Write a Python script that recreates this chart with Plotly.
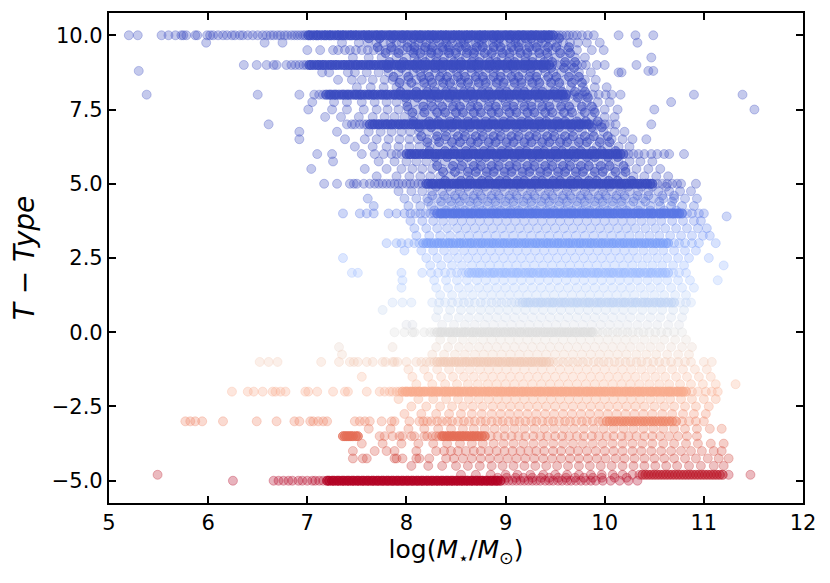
import plotly.graph_objects as go

# =============== data: log(M*/Msun) of galaxies at each T-Type value ===============
# sparse galaxies (one galaxy per listed mass)
t10 = [5.20, 5.29, 5.53, 5.60, 5.67, 5.73, 5.75, 5.78, 5.87, 5.89, 5.99, 6.02, 6.05, 6.10, 6.15, 6.19, 6.24, 6.27,
       6.32, 6.35, 6.40, 6.45, 6.50, 6.55, 6.59, 6.63, 6.66, 6.70, 6.73, 6.77, 6.80, 6.84, 6.87, 6.90, 6.93, 6.96,
       6.98, 9.51, 9.54, 9.57, 9.61, 9.64, 9.68, 9.72, 9.77, 9.83, 9.89, 10.14, 10.31, 10.49]
t9_75 = [5.98, 6.57, 6.75, 7.35, 7.52, 7.61, 7.70, 7.77, 7.84, 7.90, 7.95, 8.01, 8.05, 8.12, 8.16, 8.20, 8.27, 8.33,
         8.37, 8.40, 8.46, 8.52, 8.55, 8.58, 8.63, 8.70, 8.73, 8.76, 8.81, 8.87, 8.91, 8.93, 8.98, 9.05, 9.10, 9.13,
         9.16, 9.22, 9.28, 9.33, 9.37, 9.40, 9.46, 9.52, 9.58, 9.65, 9.73, 9.82, 9.95, 10.33]
t9_5 = [7.00, 7.13, 7.26, 7.31, 7.38, 7.43, 7.49, 7.55, 7.61, 7.67, 7.73, 7.79, 7.84, 7.88, 7.93, 7.97, 8.04, 8.08,
        8.11, 8.18, 8.22, 8.25, 8.31, 8.37, 8.41, 8.44, 8.50, 8.56, 8.62, 8.66, 8.69, 8.75, 8.82, 8.88, 8.95, 9.01,
        9.08, 9.14, 9.21, 9.27, 9.34, 9.40, 9.47, 9.55, 9.63, 9.72, 9.87, 9.99]
t9_25 = [7.46, 7.62, 7.75, 7.90, 8.00, 8.08, 8.16, 8.24, 8.30, 8.38, 8.45, 8.53, 8.60, 8.68, 8.74, 8.82, 8.90, 8.96,
         9.04, 9.12, 9.20, 9.27, 9.35, 9.43, 9.50, 9.60, 9.70, 9.80, 10.47]
t9 = [6.36, 6.49, 6.59, 6.66, 6.69, 6.79, 6.84, 6.88, 6.92, 6.96, 6.99, 9.47, 9.52, 9.56, 9.61, 9.66, 9.72, 9.77,
      9.81, 9.92, 10.00, 10.32]
t8_8 = [5.30, 10.44, 10.49]
t8_75 = [7.15, 7.22, 7.41, 7.48, 7.60, 7.72, 7.82, 7.92, 8.00, 8.07, 8.14, 8.22, 8.29, 8.36, 8.44, 8.51, 8.58, 8.66,
         8.73, 8.80, 8.88, 8.95, 9.02, 9.10, 9.17, 9.25, 9.32, 9.40, 9.48, 9.56, 9.65, 9.74, 9.86, 10.14, 10.17]
t8_5 = [7.31, 7.45, 7.55, 7.66, 7.78, 7.86, 7.94, 8.02, 8.10, 8.17, 8.25, 8.33, 8.40, 8.48, 8.55, 8.63, 8.70, 8.78,
        8.85, 8.93, 9.00, 9.08, 9.16, 9.24, 9.32, 9.41, 9.50, 9.60, 9.70, 9.80, 9.91]
t8_25 = [7.50, 7.64, 7.77, 7.90, 8.00, 8.10, 8.20, 8.28, 8.37, 8.46, 8.55, 8.64, 8.72, 8.81, 8.90, 8.99, 9.08, 9.17,
         9.26, 9.35, 9.45, 9.55, 9.66, 9.78, 9.90, 10.02]
t8 = [5.38, 6.50, 6.92, 7.07, 7.12, 7.16, 9.64, 9.69, 9.74, 9.78, 9.82, 9.88, 9.94, 10.01, 10.07, 10.16, 10.90,
      11.39]
t7_75 = [7.05, 7.27, 7.40, 7.55, 7.68, 7.80, 7.90, 8.00, 8.08, 8.17, 8.25, 8.33, 8.42, 8.50, 8.58, 8.67, 8.75, 8.84,
         8.92, 9.00, 9.09, 9.17, 9.26, 9.34, 9.43, 9.52, 9.61, 9.71, 9.82, 9.93, 10.05, 10.67]
t7_5 = [7.01, 7.25, 7.40, 7.57, 7.70, 7.81, 7.92, 8.02, 8.11, 8.20, 8.29, 8.38, 8.47, 8.56, 8.65, 8.74, 8.83, 8.92,
        9.01, 9.10, 9.19, 9.28, 9.37, 9.46, 9.56, 9.66, 9.77, 9.89, 10.00, 10.13, 10.50, 11.51]
t7_25 = [7.18, 7.34, 7.52, 7.66, 7.78, 7.88, 7.98, 8.07, 8.16, 8.26, 8.35, 8.44, 8.53, 8.62, 8.71, 8.80, 8.89, 8.98,
         9.07, 9.16, 9.25, 9.34, 9.44, 9.54, 9.64, 9.75, 9.87, 10.00, 10.10]
t7 = [6.61, 7.40, 7.45, 7.48, 7.53, 7.57, 7.60, 9.88, 9.92, 9.96, 10.00, 10.05, 10.11, 10.47]
t6_75 = [6.92, 7.30, 7.62, 7.74, 7.85, 7.95, 8.04, 8.13, 8.22, 8.31, 8.40, 8.49, 8.58, 8.67, 8.76, 8.85, 8.94, 9.03,
         9.12, 9.21, 9.30, 9.39, 9.48, 9.57, 9.67, 9.77, 9.88, 9.99, 10.10, 10.20]
t6_5 = [6.92, 7.38, 7.58, 7.70, 7.82, 7.93, 8.03, 8.12, 8.21, 8.30, 8.39, 8.48, 8.57, 8.66, 8.75, 8.84, 8.93, 9.02,
        9.11, 9.20, 9.29, 9.38, 9.47, 9.56, 9.65, 9.75, 9.85, 9.96, 10.07, 10.18, 10.28, 10.42]
t6_25 = [7.48, 7.66, 7.80, 7.92, 8.03, 8.13, 8.23, 8.32, 8.42, 8.51, 8.60, 8.69, 8.78, 8.87, 8.96, 9.05, 9.14, 9.23,
         9.33, 9.42, 9.51, 9.61, 9.71, 9.81, 9.92, 10.03, 10.14, 10.25]
t6 = [7.10, 7.25, 7.55, 7.68, 7.77, 7.85, 7.90, 7.95, 10.24, 10.29, 10.34, 10.40, 10.47, 10.53, 10.60, 10.65, 10.80]
t5_75 = [7.26, 7.72, 7.88, 8.00, 8.10, 8.20, 8.30, 8.39, 8.48, 8.57, 8.66, 8.75, 8.84, 8.93, 9.02, 9.11, 9.20, 9.29,
         9.38, 9.47, 9.56, 9.65, 9.74, 9.84, 9.94, 10.04, 10.14, 10.25, 10.36, 10.48]
t5_5 = [7.04, 7.58, 7.80, 7.95, 8.06, 8.16, 8.26, 8.36, 8.45, 8.54, 8.63, 8.72, 8.81, 8.90, 8.99, 9.08, 9.17, 9.26,
        9.35, 9.44, 9.53, 9.62, 9.71, 9.80, 9.90, 10.00, 10.10, 10.21, 10.32, 10.44, 10.56]
t5_25 = [7.70, 7.90, 8.03, 8.14, 8.24, 8.34, 8.44, 8.53, 8.62, 8.71, 8.80, 8.89, 8.98, 9.07, 9.16, 9.25, 9.34, 9.43,
         9.52, 9.61, 9.70, 9.79, 9.88, 9.98, 10.08, 10.18, 10.29, 10.40, 10.52, 10.64]
t5 = [7.17, 7.30, 7.43, 7.47, 7.50, 7.57, 7.63, 7.68, 7.72, 7.76, 7.80, 7.84, 7.88, 7.92, 7.96, 8.00, 8.04, 8.08,
      8.12, 8.16, 10.53, 10.58, 10.63, 10.68, 10.73, 10.77, 10.92]
t4_9 = [8.30, 8.42, 8.53, 8.61, 8.72, 8.79, 8.90, 8.97, 9.08, 9.15, 9.26, 9.33, 9.44, 9.51, 9.62, 9.69, 9.80, 9.87,
        9.98, 10.05, 10.16, 10.24, 10.37, 10.48, 10.62]
t4_75 = [7.92, 8.05, 8.16, 8.26, 8.36, 8.45, 8.54, 8.63, 8.72, 8.81, 8.90, 8.99, 9.08, 9.17, 9.26, 9.35, 9.44, 9.53,
         9.62, 9.71, 9.80, 9.89, 9.98, 10.07, 10.16, 10.25, 10.34, 10.44, 10.54, 10.65, 10.76, 10.87]
t4_6 = [8.26, 8.38, 8.49, 8.57, 8.68, 8.75, 8.86, 8.93, 9.04, 9.11, 9.22, 9.29, 9.40, 9.47, 9.58, 9.65, 9.76, 9.83,
        9.94, 10.01, 10.12, 10.20, 10.33, 10.44, 10.58, 10.70]
t4_5 = [7.61, 7.98, 8.10, 8.21, 8.31, 8.41, 8.50, 8.59, 8.68, 8.77, 8.86, 8.95, 9.04, 9.13, 9.22, 9.31, 9.40, 9.49,
        9.58, 9.67, 9.76, 9.85, 9.94, 10.03, 10.12, 10.21, 10.30, 10.39, 10.49, 10.59, 10.70, 10.81, 10.93]
t4_4 = [8.22, 8.35, 8.45, 8.54, 8.64, 8.72, 8.82, 8.90, 9.00, 9.08, 9.18, 9.26, 9.36, 9.44, 9.54, 9.62, 9.72, 9.80,
        9.90, 9.98, 10.08, 10.17, 10.29, 10.41, 10.55, 10.68]
t4_25 = [7.67, 8.02, 8.14, 8.25, 8.35, 8.45, 8.54, 8.64, 8.73, 8.82, 8.91, 9.00, 9.09, 9.18, 9.27, 9.36, 9.45, 9.54,
         9.63, 9.72, 9.81, 9.90, 9.99, 10.08, 10.17, 10.26, 10.36, 10.46, 10.56, 10.67, 10.78, 10.90]
t4_1 = [8.28, 8.40, 8.50, 8.59, 8.69, 8.77, 8.87, 8.95, 9.05, 9.13, 9.23, 9.31, 9.41, 9.49, 9.59, 9.67, 9.77, 9.85,
        9.95, 10.03, 10.13, 10.22, 10.34, 10.46, 10.60, 10.72]
t4 = [7.36, 7.53, 7.60, 7.67, 7.82, 7.90, 7.98, 8.04, 8.09, 8.14, 8.19, 8.24, 8.28, 10.83, 10.88, 10.95, 11.00]
t3_9 = [11.23]
t3_75 = [8.04, 8.16, 8.27, 8.37, 8.47, 8.56, 8.65, 8.74, 8.83, 8.92, 9.01, 9.10, 9.19, 9.28, 9.37, 9.46, 9.55, 9.64,
         9.73, 9.82, 9.91, 10.00, 10.09, 10.18, 10.27, 10.37, 10.47, 10.57, 10.68, 10.79, 10.90, 10.97]
t3_5 = [8.08, 8.20, 8.31, 8.41, 8.51, 8.60, 8.69, 8.78, 8.87, 8.96, 9.05, 9.14, 9.23, 9.32, 9.41, 9.50, 9.59, 9.68,
        9.77, 9.86, 9.95, 10.04, 10.13, 10.22, 10.31, 10.41, 10.51, 10.61, 10.72, 10.83, 10.94, 11.03]
t3_25 = [8.10, 8.23, 8.34, 8.44, 8.54, 8.63, 8.72, 8.81, 8.90, 8.99, 9.08, 9.17, 9.26, 9.35, 9.44, 9.53, 9.62, 9.71,
         9.80, 9.89, 9.98, 10.07, 10.16, 10.25, 10.35, 10.45, 10.55, 10.66, 10.77, 10.88, 10.99, 11.06]
t3 = [7.80, 7.90, 7.95, 8.02, 8.08, 8.13, 10.70, 10.75, 10.81, 10.88, 10.95, 11.12]
t2_75 = [7.98, 8.15, 8.27, 8.38, 8.48, 8.58, 8.67, 8.76, 8.85, 8.94, 9.03, 9.12, 9.21, 9.30, 9.39, 9.48, 9.57, 9.66,
         9.75, 9.84, 9.93, 10.02, 10.11, 10.20, 10.29, 10.39, 10.49, 10.59, 10.70, 10.81, 10.92]
t2_5 = [7.36, 8.20, 8.31, 8.42, 8.52, 8.62, 8.71, 8.80, 8.89, 8.98, 9.07, 9.16, 9.25, 9.34, 9.43, 9.52, 9.61, 9.70,
        9.79, 9.88, 9.97, 10.06, 10.15, 10.24, 10.33, 10.43, 10.53, 10.63, 10.74, 10.85, 11.05]
t2_25 = [8.24, 8.35, 8.46, 8.56, 8.66, 8.75, 8.84, 8.93, 9.02, 9.11, 9.20, 9.29, 9.38, 9.47, 9.56, 9.65, 9.74, 9.83,
         9.92, 10.01, 10.10, 10.19, 10.28, 10.38, 10.48, 10.58, 10.69, 10.80, 11.20]
t2 = [7.45, 7.51, 7.95, 8.16, 8.25, 8.32, 8.39, 8.45, 8.51, 8.56, 8.60, 10.69, 10.75, 10.82]
t1_75 = [7.96, 8.28, 8.40, 8.51, 8.61, 8.71, 8.80, 8.89, 8.98, 9.07, 9.16, 9.25, 9.34, 9.43, 9.52, 9.61, 9.70, 9.79,
         9.88, 9.97, 10.06, 10.15, 10.24, 10.33, 10.43, 10.53, 10.63, 10.74, 10.86, 11.14]
t1_5 = [7.95, 8.30, 8.42, 8.53, 8.63, 8.73, 8.82, 8.91, 9.00, 9.09, 9.18, 9.27, 9.36, 9.45, 9.54, 9.63, 9.72, 9.81,
        9.90, 9.99, 10.08, 10.17, 10.26, 10.36, 10.46, 10.56, 10.67, 10.78, 10.90]
t1_25 = [8.34, 8.46, 8.57, 8.67, 8.77, 8.86, 8.95, 9.04, 9.13, 9.22, 9.31, 9.40, 9.49, 9.58, 9.67, 9.76, 9.85, 9.94,
         10.03, 10.12, 10.21, 10.30, 10.40, 10.50, 10.60, 10.71, 10.82]
t1 = [7.86, 7.96, 8.05, 8.26, 8.33, 8.39, 8.46, 8.52, 8.58, 8.63, 8.69, 8.75, 8.80, 8.86, 8.91, 8.96, 9.01, 9.06,
      9.10, 9.14, 10.76, 10.82, 10.87]
t0_75 = [7.76, 8.32, 8.44, 8.55, 8.65, 8.75, 8.84, 8.93, 9.02, 9.11, 9.20, 9.29, 9.38, 9.47, 9.56, 9.65, 9.74, 9.83,
         9.92, 10.01, 10.10, 10.19, 10.28, 10.38, 10.48, 10.58, 10.69, 10.80]
t0_5 = [8.30, 8.42, 8.53, 8.63, 8.73, 8.82, 8.91, 9.00, 9.09, 9.18, 9.27, 9.36, 9.45, 9.54, 9.63, 9.72, 9.81, 9.90,
        9.99, 10.08, 10.17, 10.26, 10.36, 10.46, 10.56, 10.67, 10.78]
t0_25 = [8.00, 8.06, 8.36, 8.48, 8.59, 8.69, 8.79, 8.88, 8.97, 9.06, 9.15, 9.24, 9.33, 9.42, 9.51, 9.60, 9.69, 9.78,
         9.87, 9.96, 10.05, 10.14, 10.23, 10.33, 10.43, 10.53, 10.64, 10.75]
t0 = [7.88, 7.98, 8.06, 8.08, 8.18, 8.24, 8.28, 9.93, 9.98, 10.03, 10.08, 10.13, 10.18, 10.23, 10.28, 10.34, 10.39,
      10.45, 10.51, 10.57, 10.63, 10.70, 10.78]
tm0_25 = [8.34, 8.46, 8.57, 8.67, 8.77, 8.86, 8.95, 9.04, 9.13, 9.22, 9.31, 9.40, 9.49, 9.58, 9.67, 9.76, 9.85, 9.94,
          10.03, 10.12, 10.21, 10.30, 10.40, 10.50, 10.60, 10.71, 10.82]
tm0_5 = [7.32, 7.86, 8.30, 8.42, 8.53, 8.63, 8.73, 8.82, 8.91, 9.00, 9.09, 9.18, 9.27, 9.36, 9.45, 9.54, 9.63, 9.72,
         9.81, 9.90, 9.99, 10.08, 10.17, 10.26, 10.36, 10.46, 10.56, 10.67, 10.78, 10.88]
tm0_75 = [7.35, 8.26, 8.38, 8.49, 8.59, 8.69, 8.78, 8.87, 8.96, 9.05, 9.14, 9.23, 9.32, 9.41, 9.50, 9.59, 9.68, 9.77,
          9.86, 9.95, 10.04, 10.13, 10.22, 10.32, 10.42, 10.52, 10.63, 10.74, 10.85]
tm1 = [6.52, 6.61, 6.70, 7.14, 7.32, 7.43, 7.47, 7.51, 7.60, 7.66, 7.76, 7.79, 7.86, 7.88, 7.91, 8.00, 8.10, 8.15,
       8.20, 8.24, 8.28, 9.48, 9.53, 9.58, 9.63, 9.68, 9.73, 9.78, 9.83, 9.89, 9.94, 9.99, 10.04, 10.10, 10.15,
       10.21, 10.26, 10.32, 10.37, 10.43, 10.49, 10.55, 10.61, 10.67, 10.74, 10.81, 10.87, 11.00, 11.08]
tm1_25 = [8.02, 8.18, 8.31, 8.43, 8.54, 8.64, 8.74, 8.83, 8.92, 9.01, 9.10, 9.19, 9.28, 9.37, 9.46, 9.55, 9.64, 9.73,
          9.82, 9.91, 10.00, 10.09, 10.18, 10.27, 10.37, 10.47, 10.57, 10.68, 10.79, 10.91, 11.03]
tm1_5 = [7.55, 8.06, 8.22, 8.35, 8.47, 8.58, 8.68, 8.78, 8.87, 8.96, 9.05, 9.14, 9.23, 9.32, 9.41, 9.50, 9.59, 9.68,
         9.77, 9.86, 9.95, 10.04, 10.13, 10.22, 10.31, 10.41, 10.51, 10.61, 10.72, 10.83, 10.95, 11.07]
tm1_75 = [8.10, 8.26, 8.39, 8.51, 8.62, 8.72, 8.82, 8.91, 9.00, 9.09, 9.18, 9.27, 9.36, 9.45, 9.54, 9.63, 9.72, 9.81,
          9.90, 9.99, 10.08, 10.17, 10.26, 10.35, 10.45, 10.55, 10.65, 10.76, 10.87, 10.99, 11.12, 11.32]
tm2 = [6.24, 6.40, 6.46, 6.55, 6.65, 6.68, 6.73, 6.78, 6.98, 7.01, 7.10, 7.26, 7.38, 7.41, 7.60, 7.73, 7.78, 7.83,
       7.86, 7.90, 7.93, 10.88, 10.94, 11.02, 11.08, 11.14]
tm2_25 = [7.92, 8.12, 8.27, 8.40, 8.52, 8.63, 8.73, 8.83, 8.92, 9.01, 9.10, 9.19, 9.28, 9.37, 9.46, 9.55, 9.64, 9.73,
          9.82, 9.91, 10.00, 10.09, 10.18, 10.27, 10.36, 10.46, 10.56, 10.66, 10.77, 10.88, 11.00, 11.12]
tm2_5 = [8.05, 8.20, 8.34, 8.46, 8.57, 8.67, 8.77, 8.87, 8.96, 9.05, 9.14, 9.23, 9.32, 9.41, 9.50, 9.59, 9.68, 9.77,
         9.86, 9.95, 10.04, 10.13, 10.22, 10.31, 10.40, 10.50, 10.60, 10.70, 10.81, 10.92, 11.05]
tm2_75 = [7.98, 8.15, 8.30, 8.43, 8.55, 8.66, 8.76, 8.86, 8.95, 9.04, 9.13, 9.22, 9.31, 9.40, 9.49, 9.58, 9.67, 9.76,
          9.85, 9.94, 10.03, 10.12, 10.21, 10.30, 10.39, 10.48, 10.58, 10.68, 10.79, 10.90, 11.02]
tm3 = [5.77, 5.82, 5.87, 5.94, 6.15, 6.49, 6.69, 6.87, 6.92, 7.03, 7.06, 7.11, 7.16, 7.20, 7.48, 7.53, 7.58, 7.63,
       7.75, 7.85, 7.88, 8.03, 8.13, 8.17, 8.21, 8.25, 8.31, 8.36, 8.41, 8.46, 8.52, 8.58, 8.63, 8.69, 8.75, 8.80,
       8.86, 8.92, 8.97, 9.03, 9.09, 9.14, 9.20, 9.26, 9.31, 9.37, 9.43, 9.48, 9.54, 9.60, 9.65, 9.71, 9.77, 9.82,
       9.88, 9.94, 9.98, 10.78, 10.85, 10.92, 11.00]
tm3_25 = [7.62, 7.84, 8.02, 8.18, 8.32, 8.45, 8.57, 8.68, 8.79, 8.89, 8.99, 9.09, 9.19, 9.29, 9.39, 9.49, 9.59, 9.69,
          9.79, 9.89, 9.99, 10.09, 10.19, 10.29, 10.39, 10.49, 10.59, 10.70, 10.81, 10.93, 11.06, 11.18]
tm3_5 = [7.73, 7.78, 7.86, 7.93, 7.96, 8.05, 8.08, 8.18, 8.21, 8.26, 8.30, 8.33, 8.85, 8.92, 8.99, 9.06, 9.13, 9.20,
         9.28, 9.35, 9.42, 9.50, 9.57, 9.64, 9.72, 9.79, 9.87, 9.94, 10.02, 10.09, 10.17, 10.24, 10.32, 10.40,
         10.48, 10.56, 10.65, 10.74, 10.83, 10.93]
tm3_75 = [7.55, 7.76, 7.95, 8.12, 8.27, 8.41, 8.54, 8.66, 8.77, 8.88, 8.98, 9.08, 9.18, 9.28, 9.38, 9.48, 9.58, 9.68,
          9.78, 9.88, 9.98, 10.08, 10.18, 10.28, 10.38, 10.48, 10.59, 10.70, 10.82, 10.94, 11.07, 11.20]
tm4 = [7.46, 7.68, 7.80, 7.88, 8.10, 8.30, 8.38, 8.45, 8.52, 8.60, 8.68, 8.75, 8.83, 8.91, 8.99, 9.07, 9.15, 9.23,
       9.31, 9.39, 9.48, 9.56, 9.65, 9.73, 9.82, 9.91, 10.00, 10.09, 10.18, 10.28, 10.37, 10.47, 10.57, 10.67,
       10.77, 10.87, 10.98, 11.10, 11.18]
tm4_25 = [7.46, 7.56, 7.60, 7.88, 7.90, 7.96, 8.10, 8.13, 8.23, 8.40, 8.48, 8.57, 8.66, 8.75, 8.84, 8.93, 9.02, 9.11,
          9.20, 9.29, 9.38, 9.47, 9.56, 9.65, 9.74, 9.83, 9.92, 10.01, 10.11, 10.20, 10.30, 10.40, 10.50, 10.60,
          10.70, 10.81, 10.92, 11.04, 11.15, 11.25]
tm4_5 = [8.05, 8.22, 8.36, 8.50, 8.62, 8.74, 8.86, 8.97, 9.08, 9.19, 9.30, 9.41, 9.52, 9.63, 9.74, 9.85, 9.96, 10.07,
         10.18, 10.29, 10.40, 10.51, 10.62, 10.73, 10.85, 10.97, 11.10, 11.20]
tm4_8 = [5.49, 8.55, 8.70, 8.85, 9.00, 9.12, 9.25, 9.38, 9.50, 9.62, 9.74, 9.86, 9.97, 10.08, 10.18, 10.28, 10.35,
         11.25, 11.47]
tm4_9 = [8.92, 9.01, 9.10, 9.18, 9.27, 9.36, 9.44, 9.53, 9.61, 9.70, 9.79, 9.88, 9.97, 10.10, 10.22]
tm5 = [6.25, 6.66, 6.71, 6.76, 6.81, 6.85, 6.91, 6.95, 7.00, 7.05, 7.08, 7.12, 7.16, 8.99, 9.03, 9.07, 9.11, 9.15,
       9.19, 9.23, 9.27, 9.31, 9.35, 9.40, 9.44, 9.48, 9.53, 9.57, 9.62, 9.66, 9.71, 9.76, 9.81, 9.86, 9.91, 9.98,
       10.06, 10.15, 10.24, 10.33]

t_levels = [10, 9.75, 9.5, 9.25, 9, 8.8, 8.75, 8.5, 8.25, 8, 7.75, 7.5, 7.25, 7, 6.75, 6.5, 6.25, 6, 5.75, 5.5,
            5.25, 5, 4.9, 4.75, 4.6, 4.5, 4.4, 4.25, 4.1, 4, 3.9, 3.75, 3.5, 3.25, 3, 2.75, 2.5, 2.25, 2, 1.75,
            1.5, 1.25, 1, 0.75, 0.5, 0.25, 0, -0.25, -0.5, -0.75, -1, -1.25, -1.5, -1.75, -2, -2.25, -2.5, -2.75,
            -3, -3.25, -3.5, -3.75, -4, -4.25, -4.5, -4.8, -4.9, -5]
mass_by_level = [t10, t9_75, t9_5, t9_25, t9, t8_8, t8_75, t8_5, t8_25, t8, t7_75, t7_5, t7_25, t7, t6_75, t6_5,
                 t6_25, t6, t5_75, t5_5, t5_25, t5, t4_9, t4_75, t4_6, t4_5, t4_4, t4_25, t4_1, t4, t3_9, t3_75,
                 t3_5, t3_25, t3, t2_75, t2_5, t2_25, t2, t1_75, t1_5, t1_25, t1, t0_75, t0_5, t0_25, t0, tm0_25,
                 tm0_5, tm0_75, tm1, tm1_25, tm1_5, tm1_75, tm2, tm2_25, tm2_5, tm2_75, tm3, tm3_25, tm3_5, tm3_75,
                 tm4, tm4_25, tm4_5, tm4_8, tm4_9, tm5]

# crowded late-type cloud between the main sequences (two galaxies per listed mass)
c9_9 = [7.62, 7.73, 7.86, 7.96, 8.07, 8.14, 8.24, 8.30, 8.40, 8.46, 8.56, 8.62, 8.72, 8.78, 8.88, 8.94, 9.04, 9.10,
        9.20, 9.26, 9.36, 9.43, 9.54]
c9_6 = [7.71, 7.85, 8.01, 8.08, 8.19, 8.26, 8.36, 8.43, 8.53, 8.60, 8.71, 8.77, 8.88, 8.95, 9.06, 9.13, 9.24, 9.31,
        9.43, 9.51, 9.64]
c9_4 = [7.79, 7.92, 8.07, 8.14, 8.25, 8.32, 8.43, 8.50, 8.61, 8.68, 8.79, 8.86, 8.97, 9.04, 9.15, 9.22, 9.34, 9.42,
        9.55, 9.65]
c9_1 = [7.83, 7.97, 8.11, 8.19, 8.30, 8.37, 8.48, 8.55, 8.66, 8.73, 8.84, 8.91, 9.02, 9.09, 9.20, 9.27, 9.39, 9.47,
        9.60, 9.70]
c8_9 = [7.81, 7.95, 8.10, 8.18, 8.29, 8.36, 8.47, 8.54, 8.65, 8.72, 8.83, 8.90, 9.01, 9.08, 9.19, 9.26, 9.38, 9.46,
        9.59, 9.69]
c8_6 = [7.87, 8.02, 8.15, 8.23, 8.34, 8.41, 8.52, 8.59, 8.70, 8.77, 8.88, 8.95, 9.06, 9.13, 9.24, 9.31, 9.43, 9.51,
        9.64, 9.74]
c8_4 = [7.93, 8.05, 8.18, 8.26, 8.37, 8.44, 8.55, 8.62, 8.73, 8.80, 8.91, 8.98, 9.09, 9.16, 9.27, 9.34, 9.46, 9.54,
        9.67, 9.77]
c8_1 = [7.94, 8.10, 8.21, 8.29, 8.40, 8.47, 8.58, 8.65, 8.76, 8.83, 8.94, 9.01, 9.12, 9.19, 9.30, 9.37, 9.49, 9.57,
        9.70, 9.80]
c7_9 = [7.99, 8.11, 8.24, 8.32, 8.43, 8.50, 8.61, 8.68, 8.79, 8.86, 8.97, 9.04, 9.15, 9.22, 9.33, 9.40, 9.52, 9.60,
        9.73, 9.83]
c7_6 = [8.01, 8.17, 8.26, 8.36, 8.47, 8.54, 8.65, 8.72, 8.83, 8.90, 9.01, 9.08, 9.19, 9.26, 9.37, 9.44, 9.56, 9.64,
        9.77, 9.87]
c7_4 = [8.06, 8.18, 8.31, 8.39, 8.50, 8.57, 8.68, 8.75, 8.86, 8.93, 9.04, 9.11, 9.22, 9.29, 9.40, 9.47, 9.59, 9.67,
        9.80, 9.90]
c7_1 = [8.07, 8.23, 8.32, 8.44, 8.51, 8.62, 8.69, 8.80, 8.87, 8.98, 9.05, 9.16, 9.23, 9.34, 9.41, 9.52, 9.60, 9.72,
        9.81, 9.93]
c6_9 = [8.13, 8.25, 8.38, 8.46, 8.57, 8.64, 8.75, 8.82, 8.93, 9.00, 9.11, 9.18, 9.29, 9.36, 9.47, 9.54, 9.66, 9.74,
        9.87, 9.97]
c6_6 = [8.15, 8.31, 8.40, 8.52, 8.59, 8.70, 8.77, 8.88, 8.95, 9.06, 9.13, 9.24, 9.31, 9.42, 9.49, 9.60, 9.68, 9.80,
        9.89, 10.03]
c6_4 = [8.21, 8.33, 8.46, 8.54, 8.65, 8.72, 8.83, 8.90, 9.01, 9.08, 9.19, 9.26, 9.37, 9.44, 9.55, 9.62, 9.74, 9.82,
        9.95, 10.05]
c6_1 = [8.23, 8.39, 8.48, 8.60, 8.67, 8.78, 8.85, 8.96, 9.03, 9.14, 9.21, 9.32, 9.39, 9.50, 9.57, 9.68, 9.76, 9.88,
        9.97, 10.11]
c5_9 = [8.29, 8.41, 8.54, 8.62, 8.73, 8.80, 8.91, 8.98, 9.09, 9.16, 9.27, 9.34, 9.45, 9.52, 9.63, 9.70, 9.82, 9.90,
        10.03, 10.13]
c5_6 = [8.31, 8.47, 8.56, 8.68, 8.75, 8.86, 8.93, 9.04, 9.11, 9.22, 9.29, 9.40, 9.47, 9.58, 9.65, 9.76, 9.84, 9.96,
        10.05, 10.19]
c5_4 = [8.37, 8.49, 8.62, 8.70, 8.81, 8.88, 8.99, 9.06, 9.17, 9.24, 9.35, 9.42, 9.53, 9.60, 9.71, 9.78, 9.90, 9.98,
        10.11, 10.21]
c5_1 = [8.39, 8.55, 8.64, 8.76, 8.83, 8.94, 9.01, 9.12, 9.19, 9.30, 9.37, 9.48, 9.55, 9.66, 9.73, 9.84, 9.92, 10.04,
        10.13, 10.27]

# dense cores of the main T-Type sequences (several galaxies stacked at each listed mass)
core_10 = [7.01, 7.03, 7.06, 7.09, 7.11, 7.14, 7.17, 7.19, 7.22, 7.24, 7.27, 7.30, 7.32, 7.35, 7.37, 7.40, 7.43,
           7.45, 7.48, 7.50, 7.53, 7.56, 7.58, 7.61, 7.63, 7.66, 7.69, 7.71, 7.74, 7.76, 7.79, 7.82, 7.84, 7.87,
           7.89, 7.92, 7.95, 7.97, 8.00, 8.02, 8.05, 8.08, 8.10, 8.13, 8.15, 8.18, 8.21, 8.23, 8.26, 8.28, 8.31,
           8.34, 8.36, 8.39, 8.41, 8.44, 8.47, 8.49, 8.52, 8.54, 8.57, 8.60, 8.62, 8.65, 8.67, 8.70, 8.73, 8.75,
           8.78, 8.80, 8.83, 8.86, 8.88, 8.91, 8.93, 8.96, 8.99, 9.01, 9.04, 9.06, 9.09, 9.12, 9.14, 9.17, 9.19,
           9.22, 9.25, 9.27, 9.30, 9.32, 9.35, 9.38, 9.40, 9.43, 9.45, 9.48]
core_9 = [7.02, 7.04, 7.07, 7.10, 7.12, 7.15, 7.17, 7.20, 7.23, 7.25, 7.28, 7.30, 7.33, 7.36, 7.38, 7.41, 7.43,
          7.46, 7.49, 7.51, 7.54, 7.56, 7.59, 7.62, 7.64, 7.67, 7.69, 7.72, 7.75, 7.77, 7.80, 7.82, 7.85, 7.88,
          7.90, 7.93, 7.95, 7.98, 8.01, 8.03, 8.06, 8.08, 8.11, 8.14, 8.16, 8.19, 8.21, 8.24, 8.27, 8.29, 8.32,
          8.34, 8.37, 8.40, 8.42, 8.45, 8.47, 8.50, 8.53, 8.55, 8.58, 8.60, 8.63, 8.66, 8.68, 8.71, 8.73, 8.76,
          8.79, 8.81, 8.84, 8.86, 8.89, 8.92, 8.94, 8.97, 8.99, 9.02, 9.05, 9.07, 9.10, 9.12, 9.15, 9.18, 9.20,
          9.23, 9.25, 9.28, 9.31, 9.33, 9.36, 9.38, 9.41, 9.44]
core_8 = [7.19, 7.22, 7.24, 7.27, 7.29, 7.32, 7.35, 7.37, 7.40, 7.42, 7.45, 7.48, 7.50, 7.53, 7.55, 7.58, 7.61,
          7.63, 7.66, 7.68, 7.71, 7.74, 7.76, 7.79, 7.81, 7.84, 7.87, 7.89, 7.92, 7.94, 7.97, 8.00, 8.02, 8.05,
          8.07, 8.10, 8.13, 8.15, 8.18, 8.20, 8.23, 8.26, 8.28, 8.31, 8.33, 8.36, 8.39, 8.41, 8.44, 8.46, 8.49,
          8.52, 8.54, 8.57, 8.59, 8.62, 8.65, 8.67, 8.70, 8.72, 8.75, 8.78, 8.80, 8.83, 8.85, 8.88, 8.91, 8.93,
          8.96, 8.98, 9.01, 9.04, 9.06, 9.09, 9.11, 9.14, 9.17, 9.19, 9.22, 9.24, 9.27, 9.30, 9.32, 9.35, 9.37,
          9.40, 9.43, 9.45, 9.48, 9.50, 9.53, 9.56, 9.58, 9.61]
core_7 = [7.63, 7.66, 7.68, 7.71, 7.73, 7.76, 7.79, 7.81, 7.84, 7.86, 7.89, 7.92, 7.94, 7.97, 7.99, 8.02, 8.05,
          8.07, 8.10, 8.12, 8.15, 8.18, 8.20, 8.23, 8.25, 8.28, 8.31, 8.33, 8.36, 8.38, 8.41, 8.44, 8.46, 8.49,
          8.51, 8.54, 8.57, 8.59, 8.62, 8.64, 8.67, 8.70, 8.72, 8.75, 8.77, 8.80, 8.83, 8.85, 8.88, 8.90, 8.93,
          8.96, 8.98, 9.01, 9.03, 9.06, 9.09, 9.11, 9.14, 9.16, 9.19, 9.22, 9.24, 9.27, 9.29, 9.32, 9.35, 9.37,
          9.40, 9.42, 9.45, 9.48, 9.50, 9.53, 9.55, 9.58, 9.61, 9.63, 9.66, 9.68, 9.71, 9.74, 9.76, 9.79, 9.82,
          9.84]
core_6 = [8.00, 8.03, 8.05, 8.08, 8.10, 8.13, 8.16, 8.18, 8.21, 8.23, 8.26, 8.29, 8.31, 8.34, 8.36, 8.39, 8.42,
          8.44, 8.47, 8.49, 8.52, 8.55, 8.57, 8.60, 8.62, 8.65, 8.68, 8.70, 8.73, 8.75, 8.78, 8.81, 8.83, 8.86,
          8.88, 8.91, 8.94, 8.96, 8.99, 9.01, 9.04, 9.07, 9.09, 9.12, 9.14, 9.17, 9.20, 9.22, 9.25, 9.27, 9.30,
          9.33, 9.35, 9.38, 9.40, 9.43, 9.46, 9.48, 9.51, 9.53, 9.56, 9.59, 9.61, 9.64, 9.66, 9.69, 9.72, 9.74,
          9.77, 9.79, 9.82, 9.85, 9.87, 9.90, 9.92, 9.95, 9.98, 10.00, 10.03, 10.05, 10.08, 10.11, 10.13, 10.16,
          10.19]
core_5 = [8.20, 8.22, 8.25, 8.27, 8.30, 8.33, 8.35, 8.38, 8.40, 8.43, 8.46, 8.48, 8.51, 8.53, 8.56, 8.59, 8.61,
          8.64, 8.66, 8.69, 8.72, 8.74, 8.77, 8.79, 8.82, 8.85, 8.87, 8.90, 8.92, 8.95, 8.98, 9.00, 9.03, 9.05,
          9.08, 9.11, 9.13, 9.16, 9.18, 9.21, 9.24, 9.26, 9.29, 9.31, 9.34, 9.37, 9.39, 9.42, 9.44, 9.47, 9.50,
          9.52, 9.55, 9.57, 9.60, 9.63, 9.65, 9.68, 9.70, 9.73, 9.76, 9.78, 9.81, 9.83, 9.86, 9.89, 9.91, 9.94,
          9.96, 9.99, 10.02, 10.04, 10.07, 10.09, 10.12, 10.15, 10.17, 10.20, 10.22, 10.25, 10.28, 10.30, 10.33,
          10.35, 10.38, 10.41, 10.43, 10.46, 10.48]
core_4 = [8.31, 8.34, 8.36, 8.39, 8.41, 8.44, 8.47, 8.49, 8.52, 8.54, 8.57, 8.60, 8.62, 8.65, 8.67, 8.70, 8.73,
          8.75, 8.78, 8.80, 8.83, 8.86, 8.88, 8.91, 8.93, 8.96, 8.99, 9.01, 9.04, 9.06, 9.09, 9.12, 9.14, 9.17,
          9.19, 9.22, 9.25, 9.27, 9.30, 9.32, 9.35, 9.38, 9.40, 9.43, 9.45, 9.48, 9.51, 9.53, 9.56, 9.58, 9.61,
          9.64, 9.66, 9.69, 9.71, 9.74, 9.77, 9.79, 9.82, 9.84, 9.87, 9.90, 9.92, 9.95, 9.97, 10.00, 10.03, 10.05,
          10.08, 10.10, 10.13, 10.16, 10.18, 10.21, 10.23, 10.26, 10.29, 10.31, 10.34, 10.36, 10.39, 10.42, 10.44,
          10.47, 10.49, 10.52, 10.55, 10.57, 10.60, 10.62, 10.65, 10.68, 10.70, 10.73, 10.75, 10.78]
core_3 = [8.17, 8.20, 8.22, 8.25, 8.28, 8.31, 8.33, 8.36, 8.39, 8.42, 8.44, 8.47, 8.50, 8.53, 8.55, 8.58, 8.61,
          8.64, 8.66, 8.69, 8.72, 8.75, 8.77, 8.80, 8.83, 8.86, 8.88, 8.91, 8.94, 8.97, 8.99, 9.02, 9.05, 9.08,
          9.10, 9.13, 9.16, 9.19, 9.21, 9.24, 9.27, 9.30, 9.32, 9.35, 9.38, 9.41, 9.43, 9.46, 9.49, 9.52, 9.54,
          9.57, 9.60, 9.63, 9.65, 9.68, 9.71, 9.74, 9.76, 9.79, 9.82, 9.85, 9.87, 9.90, 9.93, 9.96, 9.98, 10.01,
          10.04, 10.07, 10.09, 10.12, 10.15, 10.18, 10.20, 10.23, 10.26, 10.29, 10.31, 10.34, 10.37, 10.40, 10.42,
          10.45, 10.48, 10.51, 10.53, 10.56, 10.59, 10.62, 10.64]
core_2 = [8.63, 8.66, 8.69, 8.72, 8.74, 8.77, 8.81, 8.84, 8.87, 8.89, 8.93, 8.96, 8.99, 9.01, 9.05, 9.08, 9.11,
          9.13, 9.17, 9.20, 9.23, 9.26, 9.28, 9.32, 9.35, 9.38, 9.40, 9.44, 9.47, 9.50, 9.53, 9.55, 9.59, 9.62,
          9.65, 9.67, 9.71, 9.74, 9.77, 9.80, 9.82, 9.86, 9.89, 9.92, 9.94, 9.98, 10.01, 10.04, 10.07, 10.09,
          10.13, 10.16, 10.19, 10.21, 10.25, 10.28, 10.31, 10.34, 10.36, 10.40, 10.43, 10.46, 10.48, 10.52, 10.55,
          10.58, 10.61, 10.64]
core_1 = [9.17, 9.20, 9.23, 9.25, 9.29, 9.32, 9.35, 9.37, 9.41, 9.44, 9.47, 9.49, 9.53, 9.56, 9.59, 9.61, 9.65,
          9.68, 9.71, 9.73, 9.77, 9.80, 9.83, 9.85, 9.89, 9.92, 9.95, 9.97, 10.01, 10.04, 10.07, 10.09, 10.13,
          10.16, 10.19, 10.21, 10.25, 10.28, 10.31, 10.33, 10.37, 10.40, 10.43, 10.45, 10.49, 10.52, 10.55, 10.57,
          10.61, 10.64, 10.67, 10.70]
core_0 = [8.31, 8.34, 8.36, 8.39, 8.42, 8.44, 8.47, 8.50, 8.52, 8.55, 8.58, 8.60, 8.63, 8.66, 8.68, 8.71, 8.74,
          8.76, 8.79, 8.82, 8.84, 8.87, 8.90, 8.92, 8.95, 8.98, 9.00, 9.03, 9.06, 9.08, 9.11, 9.14, 9.16, 9.19,
          9.22, 9.24, 9.27, 9.30, 9.32, 9.35, 9.38, 9.40, 9.43, 9.46, 9.48, 9.51, 9.54, 9.56, 9.59, 9.62, 9.64,
          9.67, 9.70, 9.72, 9.75, 9.78, 9.80, 9.83, 9.86, 9.88]
core_m1 = [8.31, 8.34, 8.37, 8.39, 8.42, 8.45, 8.48, 8.50, 8.53, 8.56, 8.59, 8.61, 8.64, 8.67, 8.70, 8.72, 8.75,
           8.78, 8.81, 8.83, 8.86, 8.89, 8.92, 8.94, 8.97, 9.00, 9.03, 9.05, 9.08, 9.11, 9.14, 9.16, 9.19, 9.22,
           9.25, 9.27, 9.30, 9.33, 9.36, 9.38, 9.41, 9.44]
core_m2 = [7.96, 7.99, 8.01, 8.04, 8.06, 8.09, 8.12, 8.14, 8.17, 8.19, 8.22, 8.25, 8.27, 8.30, 8.32, 8.35, 8.38,
           8.40, 8.43, 8.45, 8.48, 8.51, 8.53, 8.56, 8.58, 8.61, 8.64, 8.66, 8.69, 8.71, 8.74, 8.77, 8.79, 8.82,
           8.84, 8.87, 8.90, 8.92, 8.95, 8.97, 9.00, 9.03, 9.05, 9.08, 9.10, 9.13, 9.16, 9.18, 9.21, 9.23, 9.26,
           9.29, 9.31, 9.34, 9.36, 9.39, 9.42, 9.44, 9.47, 9.49, 9.52, 9.55, 9.57, 9.60, 9.62, 9.65, 9.68, 9.70,
           9.73, 9.75, 9.78, 9.81, 9.83, 9.86, 9.88, 9.91, 9.94, 9.96, 9.99, 10.01, 10.04, 10.07, 10.09, 10.12,
           10.14, 10.17, 10.20, 10.22, 10.25, 10.27, 10.30, 10.33, 10.35, 10.38, 10.40, 10.43, 10.46, 10.48, 10.51,
           10.53, 10.56, 10.59, 10.61, 10.64, 10.66, 10.69, 10.72, 10.74, 10.77, 10.79, 10.82]
core_m3 = [10.02, 10.05, 10.08, 10.11, 10.14, 10.17, 10.20, 10.23, 10.26, 10.29, 10.32, 10.35, 10.38, 10.41, 10.44,
           10.47, 10.50, 10.53, 10.56, 10.59, 10.62, 10.65, 10.68, 10.72]
core_m3_5 = [7.36, 7.38, 7.40, 7.42, 7.44, 7.46, 7.49, 7.51, 8.36, 8.38, 8.41, 8.43, 8.46, 8.48, 8.51, 8.53, 8.56,
             8.58, 8.61, 8.63, 8.66, 8.68, 8.71, 8.73, 8.76, 8.79]
core_m4_8 = [10.38, 10.41, 10.44, 10.47, 10.50, 10.53, 10.56, 10.59, 10.62, 10.65, 10.68, 10.71, 10.74, 10.77,
             10.80, 10.83, 10.86, 10.89, 10.92, 10.95, 10.98, 11.01, 11.04, 11.07, 11.10, 11.13, 11.16, 11.19]
core_m5 = [7.20, 7.22, 7.25, 7.27, 7.30, 7.32, 7.35, 7.37, 7.40, 7.42, 7.45, 7.47, 7.50, 7.52, 7.55, 7.57, 7.60,
           7.62, 7.65, 7.67, 7.70, 7.72, 7.75, 7.77, 7.80, 7.82, 7.85, 7.87, 7.90, 7.92, 7.95, 7.97, 8.00, 8.02,
           8.05, 8.07, 8.10, 8.12, 8.15, 8.17, 8.20, 8.22, 8.25, 8.27, 8.30, 8.32, 8.35, 8.37, 8.40, 8.42, 8.45,
           8.47, 8.50, 8.52, 8.55, 8.57, 8.60, 8.62, 8.65, 8.67, 8.70, 8.72, 8.75, 8.77, 8.80, 8.82, 8.85, 8.87,
           8.90, 8.92, 8.95]

core_levels = [9.9, 9.6, 9.4, 9.1, 8.9, 8.6, 8.4, 8.1, 7.9, 7.6, 7.4, 7.1, 6.9, 6.6, 6.4, 6.1, 5.9, 5.6, 5.4, 5.1,
               10, 9, 8, 7, 6, 5, 4, 3, 2, 1, 0, -1, -2, -3, -3.5, -4.8, -5]
core_lists = [c9_9, c9_6, c9_4, c9_1, c8_9, c8_6, c8_4, c8_1, c7_9, c7_6, c7_4, c7_1, c6_9, c6_6, c6_4, c6_1, c5_9,
              c5_6, c5_4, c5_1,
              core_10, core_9, core_8, core_7, core_6, core_5, core_4, core_3, core_2, core_1, core_0, core_m1,
              core_m2, core_m3, core_m3_5, core_m4_8, core_m5]
core_counts = [2] * 20 + [3, 3, 3, 3, 3, 3, 3, 2, 2, 2, 2, 2, 3, 2, 3, 2, 3]   # galaxies per listed mass

y_tick_vals = [-5, -2.5, 0, 2.5, 5, 7.5, 10]
y_tick_text = ["\u22125.0", "\u22122.5", "0.0", "2.5", "5.0", "7.5", "10.0"]
x_tick_vals = [5, 6, 7, 8, 9, 10, 11, 12]

# =============== assemble ===============
xs, ys = [], []
for lev, arr in zip(t_levels, mass_by_level):
    xs.extend(arr)
    ys.extend([lev] * len(arr))
for lev, arr, n in zip(core_levels, core_lists, core_counts):
    for _ in range(n):
        xs.extend(arr)
        ys.extend([lev] * len(arr))

coolwarm = [(59, 76, 192), (68, 90, 204), (77, 104, 215), (87, 117, 225), (98, 130, 234), (108, 142, 241),
            (119, 154, 247), (130, 165, 251), (141, 176, 254), (152, 185, 255), (163, 194, 255), (174, 201, 253),
            (184, 208, 249), (194, 213, 244), (204, 217, 238), (213, 219, 230), (221, 221, 221), (229, 216, 209),
            (236, 211, 197), (241, 204, 185), (245, 196, 173), (247, 187, 160), (247, 177, 148), (247, 166, 135),
            (244, 154, 123), (241, 141, 111), (236, 127, 99), (229, 112, 88), (222, 96, 77), (213, 80, 66),
            (203, 62, 56), (192, 40, 47), (180, 4, 38)]
rev = list(reversed(coolwarm))
cscale = [[i / (len(rev) - 1), "rgba(%d,%d,%d,0.3)" % c] for i, c in enumerate(rev)]

fig = go.Figure()
fig.add_trace(go.Scatter(
    x=xs, y=ys, mode="markers",
    marker=dict(size=9, color=ys, colorscale=cscale, cmin=-5, cmax=5, showscale=False,
                line=dict(width=1, color=ys, colorscale=cscale, cmin=-5, cmax=5)),
    hoverinfo="skip", showlegend=False))

font_family = "DejaVu Sans"
axis_common = dict(showgrid=False, zeroline=False, showline=True, linecolor="black", linewidth=2.2,
                   mirror="allticks", ticks="inside", ticklen=7, tickwidth=2, tickcolor="black",
                   tickfont=dict(family=font_family, size=21, color="black"), automargin=False)

# page body keeps an 8 px margin, so the figure is sized 8 px smaller than the window
fig.update_layout(
    width=822, height=575,
    margin=dict(l=101, r=27, t=5, b=80),
    paper_bgcolor="white", plot_bgcolor="white",
    xaxis=dict(range=[5, 12], tickvals=x_tick_vals,
               title=dict(text="log(<i>M</i><sub>\u22c6</sub>/<i>M</i><sub>\u2299</sub>)",
                          font=dict(family=font_family, size=25, color="black"), standoff=6),
               **axis_common),
    yaxis=dict(range=[-5.75, 10.75], tickvals=y_tick_vals, ticktext=y_tick_text,
               title=dict(text="<i>T</i> \u2212 <i>Type</i>",
                          font=dict(family=font_family, size=28, color="black"), standoff=12),
               **axis_common),
)

fig.write_html("out.html")
